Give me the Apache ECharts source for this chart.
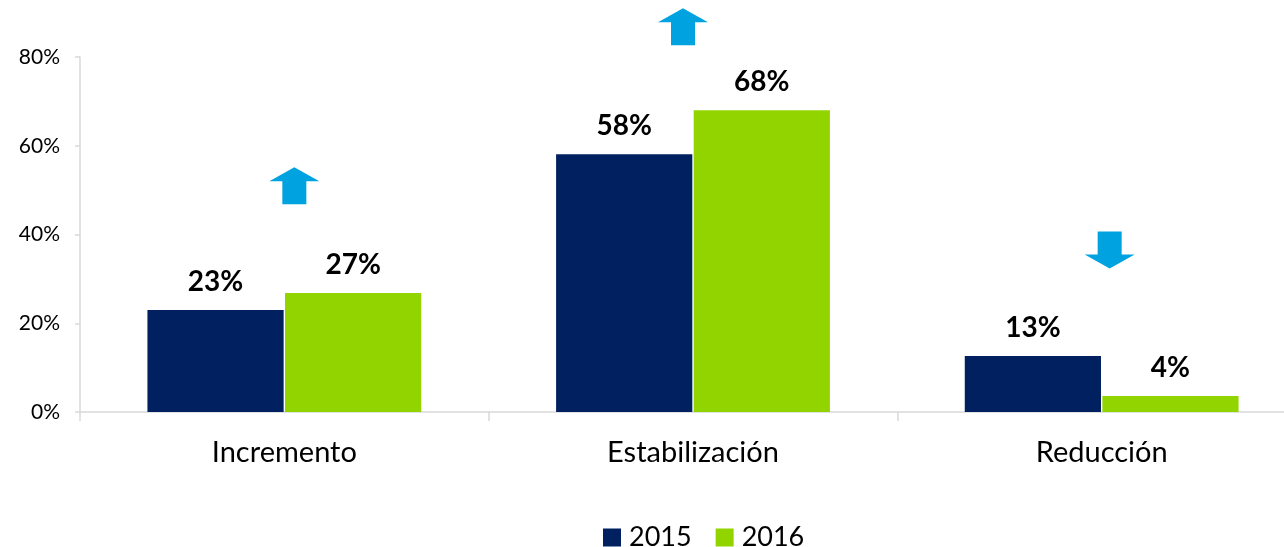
<!DOCTYPE html>
<html>
<head>
<meta charset="utf-8">
<script src="https://cdn.jsdelivr.net/npm/echarts@6/dist/echarts.min.js"></script>
<style>
  html, body { margin: 0; padding: 0; background: #fff; }
  #chart { width: 1284px; height: 547px; }
</style>
</head>
<body>
<div id="chart"></div>
<script>
const categories = ['Incremento', 'Estabilización', 'Reducción']
const values2015 = [23, 58.1, 12.6]
const values2016 = [26.8, 68, 3.6]
const yTicks = [0, 20, 40, 60, 80]
// trend arrows: position in category/value space and direction
const arrowValues = [51, 86.8, 36.5]
const arrowDirs = ['up', 'up', 'down']
const arrowShift = [10, -10, 8]

const upArrow = 'path://M25,0 L50,14 L37,14 L37,37 L13,37 L13,14 L0,14 Z'
const downArrow = 'path://M13,0 L37,0 L37,23 L50,23 L25,37 L0,23 L13,23 Z'

const font = 'Lato, "Open Sans", sans-serif'

const chart = echarts.init(document.getElementById('chart'))

const labelOpt = {
  show: true,
  position: 'top',
  distance: 14,
  fontFamily: font,
  fontWeight: 'bold',
  fontSize: 28,
  color: '#000',
  formatter: p => Math.round(p.value) + '%'
}

chart.setOption({
  animation: false,
  textStyle: { fontFamily: font },
  legend: {
    bottom: -9,
    left: 598,
    itemWidth: 18,
    itemHeight: 18,
    itemGap: 24,
    icon: 'rect',
    textStyle: { fontSize: 27, color: '#000', fontFamily: font, padding: [0, 0, 0, 3] },
    data: ['2015', '2016']
  },
  grid: {
    left: 80,
    width: 1226,
    top: 57,
    bottom: 135,
    containLabel: false,
    outerBoundsMode: 'none'
  },
  xAxis: {
    type: 'category',
    data: categories,
    axisLine: { lineStyle: { color: '#D9D9D9', width: 1.5 } },
    axisTick: { show: true, length: 9, lineStyle: { color: '#D9D9D9', width: 1.5 } },
    axisLabel: { fontSize: 29, color: '#000', margin: 26, fontFamily: font }
  },
  yAxis: {
    type: 'value',
    min: 0,
    max: 80,
    interval: 20,
    axisLine: { show: true, lineStyle: { color: '#D9D9D9', width: 1.5 } },
    axisTick: { show: true, length: 5, lineStyle: { color: '#D9D9D9', width: 1.5 } },
    splitLine: { show: false },
    axisLabel: {
      fontSize: 21,
      color: '#000',
      margin: 20,
      fontFamily: font,
      formatter: v => yTicks.includes(v) ? v + '%' : ''
    }
  },
  series: [
    {
      name: '2015',
      type: 'bar',
      data: values2015,
      barGap: '1%',
      barCategoryGap: '33%',
      itemStyle: { color: '#002060' },
      label: labelOpt
    },
    {
      name: '2016',
      type: 'bar',
      data: values2016,
      itemStyle: { color: '#92D400' },
      label: labelOpt
    },
    {
      name: 'arrows',
      type: 'scatter',
      clip: false,
      silent: true,
      data: arrowValues.map((v, i) => ({
        value: [i, v],
        symbol: arrowDirs[i] === 'up' ? upArrow : downArrow,
        symbolOffset: [arrowShift[i], 0]
      })),
      symbolSize: [50, 37],
      itemStyle: { color: '#00A3E0', opacity: 1 }
    }
  ]
})
</script>
</body>
</html>
